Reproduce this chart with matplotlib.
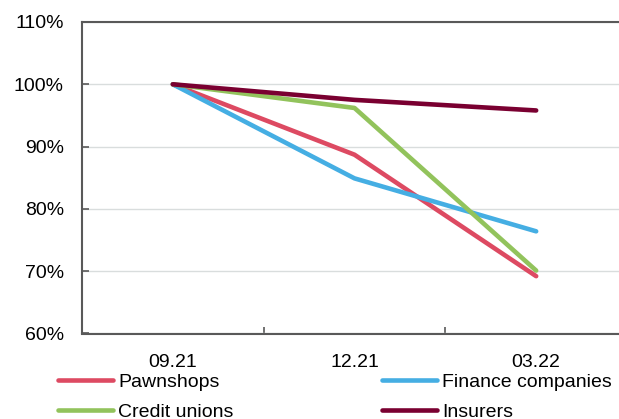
import matplotlib
matplotlib.use("Agg")
import matplotlib.pyplot as plt
from matplotlib.ticker import FixedLocator, FuncFormatter

plt.rcParams['font.family'] = ['Liberation Sans', 'DejaVu Sans']

periods = ["09.21", "12.21", "03.22"]
pawnshops = [100.0, 88.7, 69.2]
finance_companies = [100.0, 84.9, 76.4]
credit_unions = [100.0, 96.2, 70.1]
insurers = [100.0, 97.5, 95.8]

y_ticks = [60, 70, 80, 90, 100, 110]

colors = {
    "Pawnshops": "#DD4A62",
    "Finance companies": "#45AEE3",
    "Credit unions": "#92C35C",
    "Insurers": "#7A0031",
}

W, H = 619, 419
FS = 14
fig = plt.figure(figsize=(W / 100, H / 100), dpi=100)
ax = fig.add_axes([82 / W, 1 - 333.5 / H, (627 - 82) / W, (333.5 - 22) / H])

x = list(range(len(periods)))
lw = 3.3
series = [
    ("Pawnshops", pawnshops),
    ("Finance companies", finance_companies),
    ("Credit unions", credit_unions),
    ("Insurers", insurers),
]
handles = {}
for name, vals in series:
    (ln,) = ax.plot(x, vals, color=colors[name], lw=lw, solid_capstyle='round',
                    solid_joinstyle='round', label=name, zorder=3)
    handles[name] = ln

ax.set_xlim(-0.5, len(periods) - 0.5)
ax.set_ylim(60, 110)
ax.set_yticks(y_ticks)
ax.yaxis.set_major_formatter(FuncFormatter(lambda v, p: f"{v:.0f}%"))
ax.grid(axis='y', color='#D9DDDD', lw=1.0, zorder=0)

ax.set_xticks(x)
ax.set_xticklabels(periods)
ax.xaxis.set_minor_locator(FixedLocator([0.5, 1.5]))
ax.tick_params(axis='x', which='major', length=0, pad=15, labelsize=FS)
ax.tick_params(axis='x', which='minor', direction='in', length=5, width=1.2, color='#595959')
ax.tick_params(axis='y', which='major', direction='in', length=5, width=1.2,
               color='#595959', pad=13, labelsize=FS)

for side in ['left', 'bottom', 'top']:
    ax.spines[side].set_color('#595959')
    ax.spines[side].set_linewidth(1.5)
ax.spines['right'].set_visible(False)

order = ["Pawnshops", "Credit unions", "Finance companies", "Insurers"]
fig.legend([handles[n] for n in order], order, ncol=2, frameon=False,
           loc='upper left', bbox_to_anchor=(58 / W, 1 - 373 / H),
           borderpad=0, borderaxespad=0, fontsize=FS,
           handlelength=2.83, handletextpad=0.26, columnspacing=7.64,
           labelspacing=0.65)

fig.savefig("out.png", dpi=100)
